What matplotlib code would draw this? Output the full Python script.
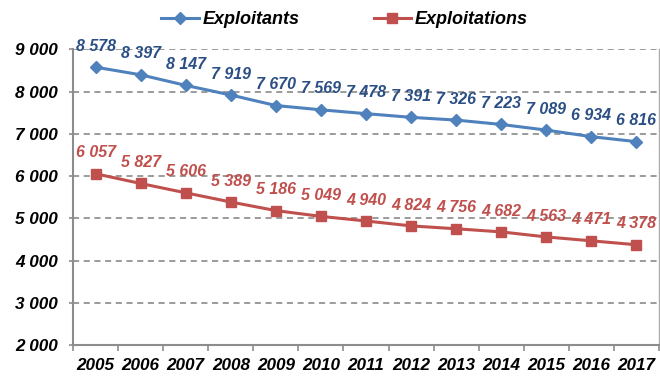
import matplotlib
matplotlib.use("Agg")
import matplotlib.pyplot as plt
from matplotlib.ticker import FixedLocator

years = ["2005", "2006", "2007", "2008", "2009", "2010", "2011",
         "2012", "2013", "2014", "2015", "2016", "2017"]
exploitants = [8578, 8397, 8147, 7919, 7670, 7569, 7478,
               7391, 7326, 7223, 7089, 6934, 6816]
exploitations = [6057, 5827, 5606, 5389, 5186, 5049, 4940,
                 4824, 4756, 4682, 4563, 4471, 4378]
y_ticks = [2000, 3000, 4000, 5000, 6000, 7000, 8000, 9000]
y_labels = ["2 000", "3 000", "4 000", "5 000", "6 000", "7 000", "8 000", "9 000"]

plt.rcParams['font.family'] = ['Liberation Sans', 'DejaVu Sans']

def fmt(v):
    s = str(v)
    return s[:-3] + " " + s[-3:]

fig = plt.figure(figsize=(6.6, 3.76), dpi=100)
ax = fig.add_axes([0.1106, 0.0816, 0.8879, 0.7873])

x = list(range(len(years)))
blue, red = "#4F81BD", "#C0504D"
ax.plot(x, exploitants, color=blue, lw=2.2, marker="D", ms=6.5, label="Exploitants")
ax.plot(x, exploitations, color=red, lw=2.2, marker="s", ms=6.5, label="Exploitations")

for xi, v in zip(x, exploitants):
    ax.annotate(fmt(v), (xi, v), xytext=(0, 15), textcoords="offset points",
                ha="center", va="center", fontsize=11.5, fontweight="bold",
                fontstyle="italic", color="#2B4F85", annotation_clip=False)
for xi, v in zip(x, exploitations):
    ax.annotate(fmt(v), (xi, v), xytext=(0, 15), textcoords="offset points",
                ha="center", va="center", fontsize=11.5, fontweight="bold",
                fontstyle="italic", color="#C0504D", annotation_clip=False)

ax.set_xlim(-0.5, len(years) - 0.5)
ax.set_ylim(2000, 9000)
ax.set_yticks(y_ticks)
ax.set_yticklabels(y_labels)
ax.set_xticks(x)
ax.set_xticklabels(years)
ax.xaxis.set_minor_locator(FixedLocator([i - 0.5 for i in range(len(years) + 1)]))

for lab in ax.get_xticklabels() + ax.get_yticklabels():
    lab.set_fontweight("bold")
    lab.set_fontstyle("italic")
    lab.set_fontsize(12.3)

ax.tick_params(axis="x", which="major", length=0, pad=9)
ax.tick_params(axis="x", which="minor", length=4, color="#8C8C8C", width=1.2)
ax.tick_params(axis="y", length=3, color="#8C8C8C", width=1.2, pad=8)

ax.grid(axis="y", linestyle=(0, (4, 3)), color="#808080", lw=1.1)
ax.set_axisbelow(True)
for s in ["left", "bottom"]:
    ax.spines[s].set_color("#8C8C8C")
    ax.spines[s].set_linewidth(1.5)
ax.spines["right"].set_color("#AAAAAA")
ax.spines["right"].set_linewidth(1)
ax.spines["top"].set_visible(False)

leg = fig.legend(loc="center", bbox_to_anchor=(0.522, 0.948), ncol=2, frameon=False,
                 prop={"weight": "bold", "style": "italic", "size": 13},
                 handlelength=2.1, handletextpad=0.2, columnspacing=4.1)

fig.savefig("out.png", dpi=100)
